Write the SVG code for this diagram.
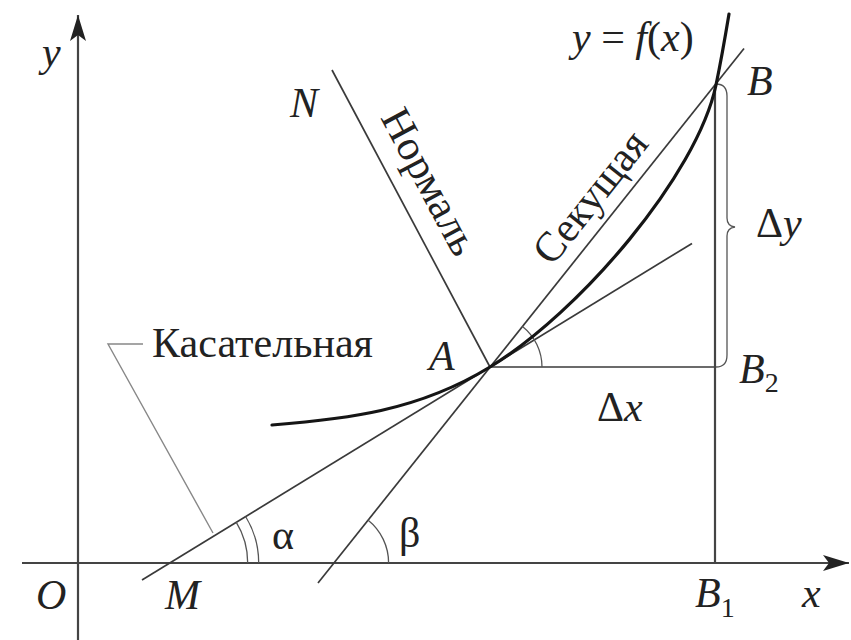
<svg xmlns="http://www.w3.org/2000/svg" width="851" height="640" viewBox="0 0 851 640">
<defs>
<style>
.ax{stroke:#444;stroke-width:2.2;fill:none}
.ln{stroke:#3a3a3a;stroke-width:1.7;fill:none}
.thin{stroke:#555;stroke-width:1.3;fill:none}
.lead{stroke:#888;stroke-width:1.4;fill:none}
.crv{stroke:#151515;stroke-width:3.2;fill:none;stroke-linecap:round}
text{font-family:"Liberation Serif","Times New Roman",serif;font-size:42px;fill:#222}
.it{font-style:italic}
.sub{font-size:28px}
</style>
<marker id="arr" viewBox="0 0 26 16" markerWidth="26" markerHeight="16" refX="26" refY="8" orient="auto" markerUnits="userSpaceOnUse">
<path d="M26,8 L0,0 L6,8 L0,16 Z" fill="#222"/>
</marker>
</defs>

<g id="axes">
<line class="ax" x1="78" y1="640" x2="78" y2="15" marker-end="url(#arr)"/>
<line class="ax" x1="22" y1="563" x2="849" y2="563" marker-end="url(#arr)"/>
</g>

<g id="connectors">
<line id="tangent" class="ln" x1="142" y1="580" x2="692" y2="243.4"/>
<line id="secant" class="ln" x1="318" y1="583" x2="744" y2="48.5"/>
<line id="normal" class="ln" x1="332" y1="70" x2="490" y2="367"/>
<line id="dx" class="ln" x1="490" y1="367" x2="715" y2="367"/>
<line id="bb1" class="ax" x1="715" y1="85" x2="715" y2="563"/>
<path id="brace" class="thin" d="M716,84 Q727,84 727,96 L727,218 Q727,226 735,227 Q727,228 727,236 L727,355 Q727,367 716,367"/>
<polyline id="leader" class="lead" points="143,344 108,344 213,533"/>
<path id="arcAlpha1" class="thin" d="M247.7,563 A78,78 0 0 0 236.2,522.2"/>
<path id="arcAlpha2" class="thin" d="M258.7,563 A89,89 0 0 0 245.6,516.5"/>
<path id="arcBeta" class="thin" d="M388.6,563 A55,55 0 0 0 367.9,520"/>
<path id="arcA" class="thin" d="M542,367 A52,52 0 0 0 522.5,326.4"/>
</g>

<g id="curve">
<path class="crv" d="M272,425 C345,419 417,411.6 490,367 C580,312 697,175 716,85 C721,61 725,38 729,14"/>
</g>

<g id="labels">
<text class="it" x="42" y="66">y</text>
<text class="it" x="290" y="117">N</text>
<text x="572" y="51"><tspan class="it">y</tspan> = <tspan class="it">f</tspan>(<tspan class="it">x</tspan>)</text>
<text class="it" x="747" y="95">B</text>
<text x="756" y="237">Δ<tspan class="it">y</tspan></text>
<text class="it" x="429" y="370">A</text>
<text x="739" y="383"><tspan class="it">B</tspan><tspan class="sub" dy="9">2</tspan></text>
<text x="597" y="421">Δ<tspan class="it">x</tspan></text>
<text x="695" y="607"><tspan class="it">B</tspan><tspan class="sub" dy="10">1</tspan></text>
<text class="it" x="802" y="607">x</text>
<text class="it" x="36" y="609">O</text>
<text class="it" x="165" y="609">M</text>
<text x="272" y="549">α</text>
<text x="399" y="547">β</text>
<text x="152" y="357" textLength="221" lengthAdjust="spacingAndGlyphs">Касательная</text>
<text transform="translate(380,117.5) rotate(62)" textLength="160" lengthAdjust="spacingAndGlyphs">Нормаль</text>
<text transform="translate(552,267) rotate(-51.4)" textLength="157" lengthAdjust="spacingAndGlyphs">Секущая</text>
</g>
</svg>
